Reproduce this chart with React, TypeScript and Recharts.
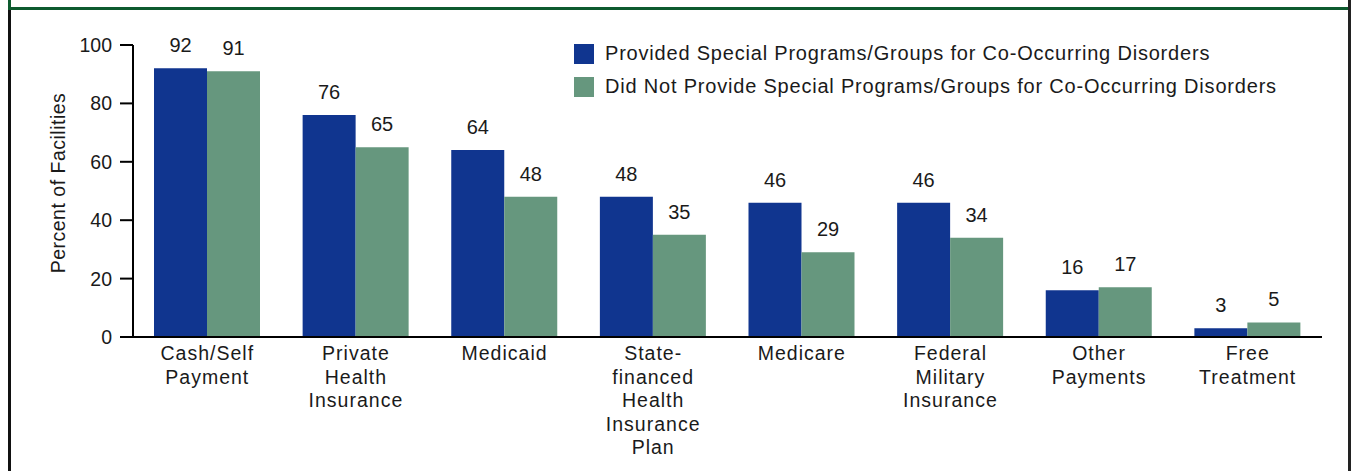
import React from "react";
import { BarChart, Bar, XAxis, YAxis, Legend, LabelList, Label } from "recharts";

const categories = [
  "Cash/Self\nPayment",
  "Private\nHealth\nInsurance",
  "Medicaid",
  "State-\nfinanced\nHealth\nInsurance\nPlan",
  "Medicare",
  "Federal\nMilitary\nInsurance",
  "Other\nPayments",
  "Free\nTreatment",
];
const provided = [92, 76, 64, 48, 46, 46, 16, 3];
const notProvided = [91, 65, 48, 35, 29, 34, 17, 5];
const yTicks = [0, 20, 40, 60, 80, 100];
const seriesNames = [
  "Provided Special Programs/Groups for Co-Occurring Disorders",
  "Did Not Provide Special Programs/Groups for Co-Occurring Disorders",
];

const BLUE = "#10358f";
const GREEN = "#66977e";
const TEXT = "#1a1a1a";
const FONT = "'Liberation Sans', Arial, Helvetica, sans-serif";
const FS = 19.5;

const data = categories.map((c, i) => ({
  category: c,
  provided: provided[i],
  notProvided: notProvided[i],
}));

const CategoryTick = (props: any) => {
  const { x, y, payload } = props;
  const lines = String(payload.value).split("\n");
  return (
    <text x={x} y={y} textAnchor="middle" fill={TEXT} fontSize={FS} fontFamily={FONT} letterSpacing={1}>
      {lines.map((l, i) => (
        <tspan key={i} x={x} dy={i === 0 ? 15 : 23.5}>
          {l}
        </tspan>
      ))}
    </text>
  );
};

const LegendContent = (props: any) => {
  const payload = [...(props.payload || [])].sort(
    (a: any, b: any) => seriesNames.indexOf(a.value) - seriesNames.indexOf(b.value)
  );
  return (
    <div style={{ fontFamily: FONT, fontSize: 20, color: TEXT, letterSpacing: 0.8, textAlign: "left" }}>
      {payload.map((p: any, i: number) => (
        <div key={i} style={{ display: "flex", alignItems: "center", height: 33, whiteSpace: "nowrap" }}>
          <div style={{ width: 20, height: 20, background: p.color, marginRight: 11, flex: "none" }} />
          <span>{p.value}</span>
        </div>
      ))}
    </div>
  );
};

export default function App() {
  return (
    <div style={{ position: "absolute", left: 0, top: 0, width: 1351, height: 471, background: "#fff", overflow: "hidden" }}>
      <div style={{ position: "absolute", left: 8, top: 0, width: 3, height: 9, background: "#0d5a2e" }} />
      <div style={{ position: "absolute", left: 8, top: 9, width: 3, height: 462, background: "#111" }} />
      <div style={{ position: "absolute", left: 8, top: 7, width: 1343, height: 3, background: "#0d5a2e" }} />
      <div style={{ position: "absolute", left: 1348, top: 0, width: 3, height: 471, background: "#222" }} />
      <div style={{ position: "absolute", left: 0, top: 0 }}>
        <BarChart
          width={1351}
          height={471}
          data={data}
          margin={{ top: 45, right: 29, bottom: 0, left: 0 }}
          barGap={0}
        >
          <XAxis
            dataKey="category"
            interval={0}
            height={134}
            tickLine={false}
            axisLine={{ stroke: "#000", strokeWidth: 2 }}
            tick={<CategoryTick />}
          />
          <YAxis
            width={133}
            domain={[0, 100]}
            ticks={yTicks}
            tickSize={13}
            tickMargin={8}
            tickLine={{ stroke: "#000", strokeWidth: 2 }}
            axisLine={{ stroke: "#000", strokeWidth: 2 }}
            tick={{ fill: TEXT, fontSize: FS, fontFamily: FONT }}
          >
            <Label
              content={(p: any) => {
                const vb = p.viewBox || {};
                const cy = vb.y + vb.height / 2 - 8;
                return (
                  <text
                    x={58}
                    y={cy}
                    transform={`rotate(-90 58 ${cy})`}
                    textAnchor="middle"
                    dominantBaseline="central"
                    fill={TEXT}
                    fontSize={FS}
                    letterSpacing={0.5}
                    fontFamily={FONT}
                  >
                    Percent of Facilities
                  </text>
                );
              }}
            />
          </YAxis>
          <Legend
            layout="horizontal"
            verticalAlign="middle"
            align="center"
            wrapperStyle={{ left: 574, top: 37, width: 770 }}
            content={<LegendContent />}
          />
          <Bar dataKey="provided" name={seriesNames[0]} fill={BLUE} barSize={53} isAnimationActive={false}>
            <LabelList dataKey="provided" position="top" offset={16} fill={TEXT} fontSize={20} fontFamily={FONT} />
          </Bar>
          <Bar dataKey="notProvided" name={seriesNames[1]} fill={GREEN} barSize={53} isAnimationActive={false}>
            <LabelList dataKey="notProvided" position="top" offset={16} fill={TEXT} fontSize={20} fontFamily={FONT} />
          </Bar>
        </BarChart>
      </div>
    </div>
  );
}
